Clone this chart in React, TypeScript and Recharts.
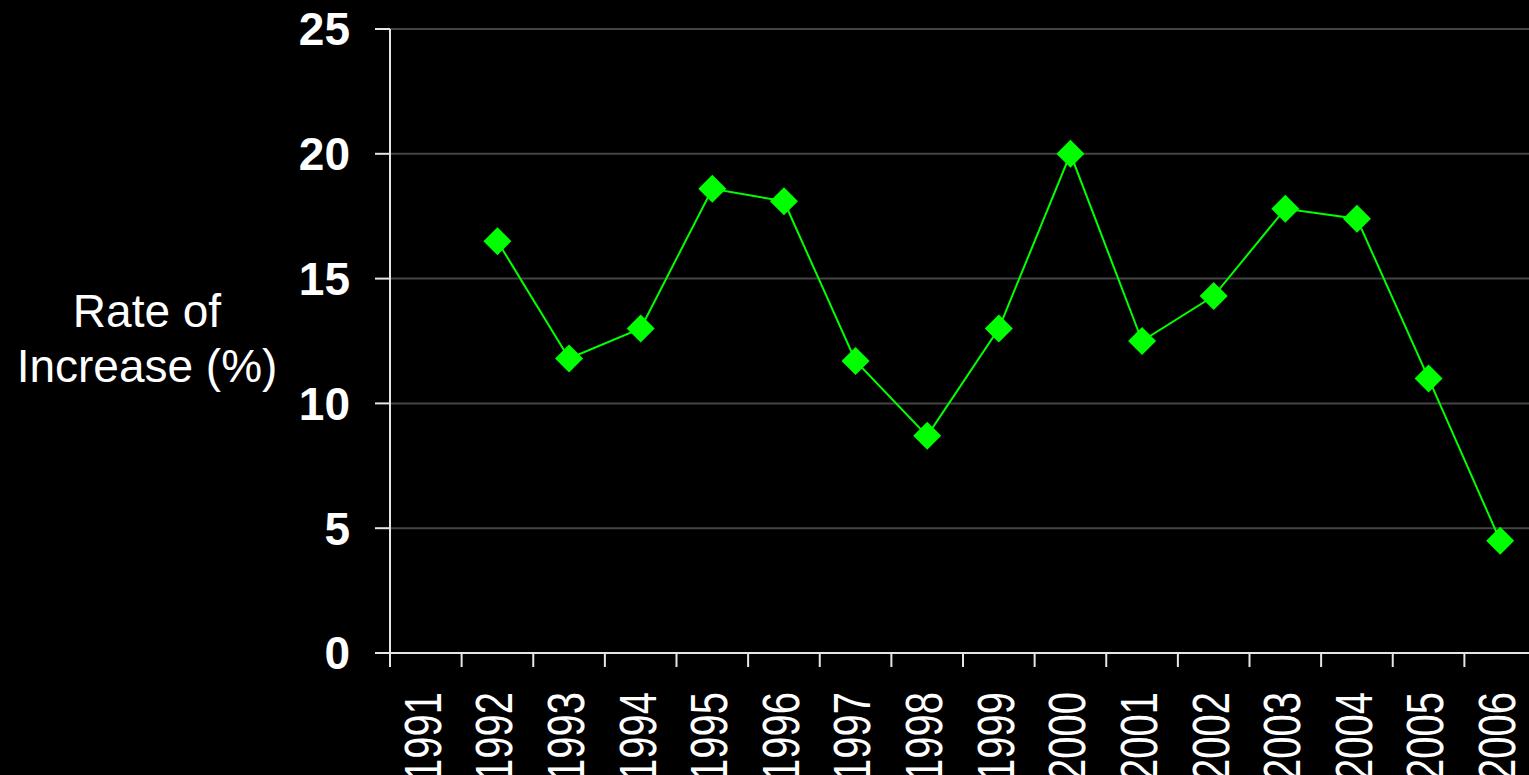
import { CartesianGrid, Line, LineChart, XAxis, YAxis } from "recharts";

const years = [
  "1991", "1992", "1993", "1994", "1995", "1996", "1997", "1998",
  "1999", "2000", "2001", "2002", "2003", "2004", "2005", "2006",
];
// 1991 has no value in the source chart.
const rates: (number | null)[] = [
  null, 16.5, 11.8, 13.0, 18.6, 18.1, 11.7, 8.7,
  13.0, 20.0, 12.5, 14.3, 17.8, 17.4, 11.0, 4.5,
];
const yTicks = [0, 5, 10, 15, 20, 25];

const data = years.map((year, i) => ({ year, rate: rates[i] }));

const FONT = "'Liberation Sans', Arial, sans-serif";
const GREEN = "#00ff00";
const AXIS = "#e6e6e6";

function Diamond(props: any) {
  const { cx, cy, value } = props;
  if (value == null || cx == null || cy == null) return null;
  const r = 14;
  return (
    <polygon
      points={`${cx},${cy - r} ${cx + r},${cy} ${cx},${cy + r} ${cx - r},${cy}`}
      fill={GREEN}
    />
  );
}

// Tick mark sits on the band's left edge (payload.offset = half band),
// the year label is rotated and a little widened, like the original.
function YearTick({ x, y, payload }: any) {
  const edge = x - (payload.offset ?? 0);
  return (
    <g>
      <line x1={edge} x2={edge} y1={y} y2={y + 14} stroke={AXIS} strokeWidth={2} />
      <text
        transform={`translate(${x}, ${y + 39}) scale(1.28, 1) rotate(-90)`}
        dy={11.6}
        textAnchor="end"
        fill="#ffffff"
        fontSize={40}
        fontFamily={FONT}
      >
        {payload.value}
      </text>
    </g>
  );
}

function AxisTitle({ viewBox }: any) {
  const cx = viewBox.x + 147;
  const cy = viewBox.y + viewBox.height / 2;
  return (
    <text fill="#ffffff" fontSize={46} fontFamily={FONT} textAnchor="middle">
      <tspan x={cx} y={cy - 14}>Rate of</tspan>
      <tspan x={cx} y={cy + 41}>Increase (%)</tspan>
    </text>
  );
}

export default function App() {
  return (
    <div
      style={{
        position: "absolute",
        left: 0,
        top: 0,
        width: 1529,
        height: 775,
        overflow: "hidden",
        background: "#000000",
      }}
    >
      <LineChart
        width={1536}
        height={800}
        data={data}
        margin={{ top: 29, right: 0, bottom: 0, left: 0 }}
      >
        <CartesianGrid vertical={false} stroke="#444444" strokeWidth={2} />
        <XAxis
          dataKey="year"
          scale="band"
          height={147}
          axisLine={{ stroke: AXIS, strokeWidth: 2 }}
          tickLine={false}
          tickSize={0}
          tickMargin={0}
          interval={0}
          tick={<YearTick />}
        />
        <YAxis
          width={390}
          domain={[0, 25]}
          ticks={yTicks}
          interval={0}
          tickSize={15}
          tickMargin={25}
          axisLine={{ stroke: AXIS, strokeWidth: 2 }}
          tickLine={{ stroke: AXIS, strokeWidth: 2 }}
          tick={{ fill: "#ffffff", fontSize: 46, fontWeight: 700, fontFamily: FONT }}
          label={{ content: <AxisTitle /> }}
        />
        <Line
          dataKey="rate"
          stroke={GREEN}
          strokeWidth={2}
          dot={<Diamond />}
          activeDot={false}
          isAnimationActive={false}
        />
      </LineChart>
    </div>
  );
}
